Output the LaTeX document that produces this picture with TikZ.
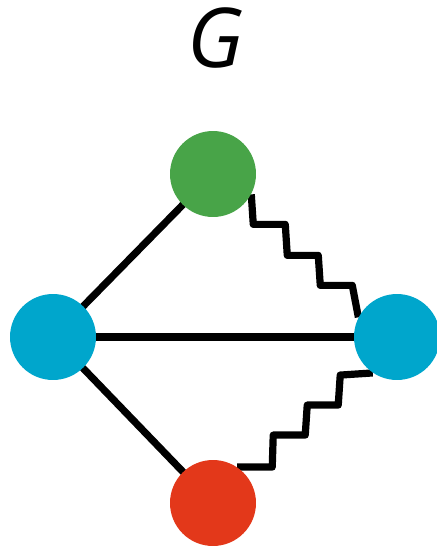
\documentclass[tikz,border=0pt]{standalone}
\usepackage{fontspec}
\setsansfont{Open Sans}
\usepackage{xcolor}
\usetikzlibrary{backgrounds}
\definecolor{mygreen}{RGB}{72,164,72}
\definecolor{myblue}{RGB}{0,166,204}
\definecolor{myred}{RGB}{227,56,26}

\tikzset{
vertex/.style={circle,minimum size=1.72cm,inner sep=0pt},
edge/.style={line width=4.1pt,line join=round,black},
}

\begin{document}
\begin{tikzpicture}[x=0.02cm,y=-0.02cm]
\useasboundingbox (0,0) rectangle (437,549);

\node[font=\sffamily\itshape\fontsize{47}{50}\selectfont] (title) at (216,38) {G};

\node[vertex,fill=mygreen] (g) at (213,174) {};
\node[vertex,fill=myblue] (l) at (53,337) {};
\node[vertex,fill=myblue] (r) at (397,337) {};
\node[vertex,fill=myred] (d) at (213,503) {};

\begin{pgfonlayer}{background}
\draw[edge] (l.center) -- (g.center);
\draw[edge] (l.center) -- (r.center);
\draw[edge] (l.center) -- (d.center);

% stepped edges
\draw[edge] (g.-28) -- ++(2,30) -- ++(32,0) -- ++(2,31) -- ++(31,0)
  -- ++(2,30) -- ++(32,0) -- (r.153);
\draw[edge] (d.56) -- ++(35,0) -- ++(1,-32) -- ++(32,0) -- ++(2,-30)
  -- ++(31,0) -- ++(2,-30) -- (r.-124);
\end{pgfonlayer}

\end{tikzpicture}
\end{document}
